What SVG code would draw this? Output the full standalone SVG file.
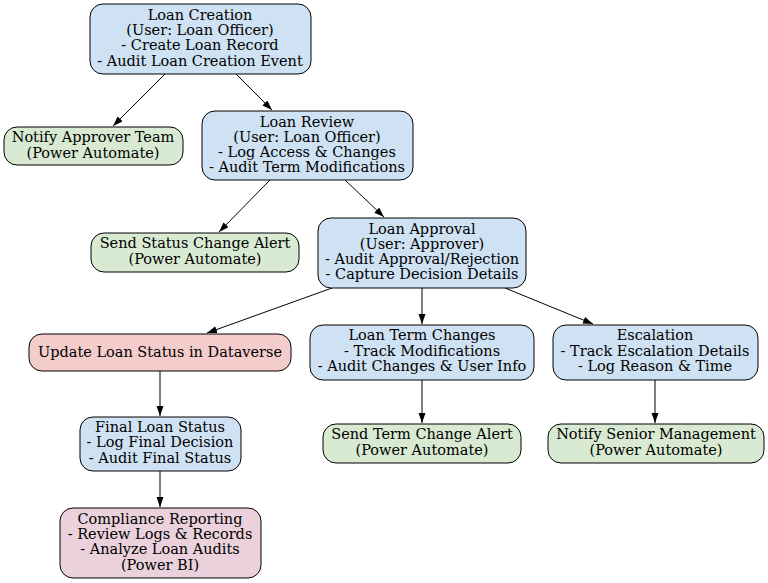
<svg xmlns="http://www.w3.org/2000/svg" width="768" height="583" viewBox="0 0 768 583">
<defs>
<style>
.n rect{stroke:#000;stroke-width:1}
.blue{fill:#cfe2f3}.green{fill:#d9ead3}.red{fill:#f4cccc}.pink{fill:#ead1dc}
text{font-family:"DejaVu Serif","Liberation Serif",serif;font-size:14.5px;text-anchor:middle;fill:#000}
.e line{stroke:#000;stroke-width:1;marker-end:url(#ah)}
</style>
<marker id="ah" markerUnits="userSpaceOnUse" markerWidth="11" markerHeight="8" refX="10" refY="3.5" orient="auto">
<path d="M0,0 L10,3.5 L0,7 z" fill="#000"/>
</marker>
</defs>
<rect width="768" height="583" fill="#fff"/>
<g id="edges" class="e">
<line x1="165" y1="74" x2="113" y2="126"/>
<line x1="236" y1="74" x2="272" y2="110"/>
<line x1="270" y1="180" x2="219" y2="232"/>
<line x1="345" y1="180" x2="384" y2="217"/>
<line x1="332" y1="288" x2="207" y2="333"/>
<line x1="422" y1="288" x2="422" y2="324"/>
<line x1="505" y1="288" x2="593" y2="324"/>
<line x1="160" y1="371" x2="160" y2="416"/>
<line x1="422" y1="380" x2="422" y2="423"/>
<line x1="655" y1="380" x2="655" y2="423"/>
<line x1="160" y1="471" x2="160" y2="507"/>
</g>
<g id="loan_creation" class="n"><rect class="blue" x="90" y="4" width="221" height="70" rx="13"/>
<text x="200" y="20">Loan Creation</text><text x="200" y="35">(User: Loan Officer)</text><text x="200" y="50">- Create Loan Record</text><text x="200" y="66">- Audit Loan Creation Event</text></g>
<g id="notify_approver" class="n"><rect class="green" x="4" y="127" width="179" height="38" rx="13"/>
<text x="93" y="142">Notify Approver Team</text><text x="93" y="158">(Power Automate)</text></g>
<g id="loan_review" class="n"><rect class="blue" x="202" y="111" width="211" height="69" rx="13"/>
<text x="307" y="127">Loan Review</text><text x="307" y="142">(User: Loan Officer)</text><text x="307" y="157">- Log Access &amp; Changes</text><text x="307" y="172">- Audit Term Modifications</text></g>
<g id="send_status_alert" class="n"><rect class="green" x="91" y="233" width="208" height="39" rx="13"/>
<text x="195" y="248">Send Status Change Alert</text><text x="195" y="264">(Power Automate)</text></g>
<g id="loan_approval" class="n"><rect class="blue" x="318" y="218" width="208" height="70" rx="13"/>
<text x="422" y="234">Loan Approval</text><text x="422" y="249">(User: Approver)</text><text x="422" y="264">- Audit Approval/Rejection</text><text x="422" y="279">- Capture Decision Details</text></g>
<g id="update_status" class="n"><rect class="red" x="29" y="334" width="262" height="37" rx="13"/>
<text x="160" y="357">Update Loan Status in Dataverse</text></g>
<g id="term_changes" class="n"><rect class="blue" x="310" y="325" width="224" height="55" rx="13"/>
<text x="422" y="340">Loan Term Changes</text><text x="422" y="356">- Track Modifications</text><text x="422" y="371">- Audit Changes &amp; User Info</text></g>
<g id="escalation" class="n"><rect class="blue" x="553" y="325" width="205" height="55" rx="13"/>
<text x="655" y="340">Escalation</text><text x="655" y="356">- Track Escalation Details</text><text x="655" y="371">- Log Reason &amp; Time</text></g>
<g id="final_status" class="n"><rect class="blue" x="80" y="417" width="161" height="54" rx="13"/>
<text x="160" y="432">Final Loan Status</text><text x="160" y="447">- Log Final Decision</text><text x="160" y="463">- Audit Final Status</text></g>
<g id="term_alert" class="n"><rect class="green" x="323" y="424" width="198" height="39" rx="13"/>
<text x="422" y="439">Send Term Change Alert</text><text x="422" y="455">(Power Automate)</text></g>
<g id="notify_senior" class="n"><rect class="green" x="548" y="424" width="216" height="39" rx="13"/>
<text x="656" y="439">Notify Senior Management</text><text x="656" y="455">(Power Automate)</text></g>
<g id="compliance" class="n"><rect class="pink" x="60" y="508" width="201" height="70" rx="13"/>
<text x="160" y="524">Compliance Reporting</text><text x="160" y="539">- Review Logs &amp; Records</text><text x="160" y="554">- Analyze Loan Audits</text><text x="160" y="570">(Power BI)</text></g>
</svg>
